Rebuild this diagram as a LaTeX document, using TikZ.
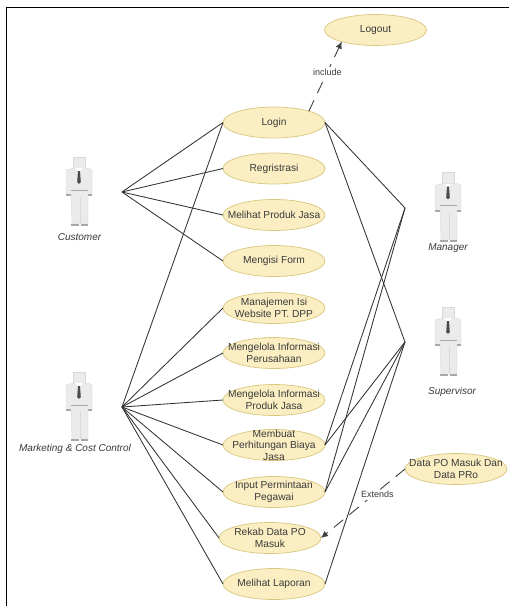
\documentclass[tikz,border=0pt]{standalone}
\usepackage{fontspec}
\setmainfont{Liberation Sans}
\usetikzlibrary{shapes.geometric,arrows.meta}
\definecolor{ucfill}{HTML}{FAEEC2}
\definecolor{ucline}{HTML}{D9C77E}
\definecolor{txt}{HTML}{3A3A3A}
\definecolor{fig}{HTML}{EBEBEB}
\definecolor{figline}{HTML}{D8D8D8}
\definecolor{figdark}{HTML}{A8A8A8}
\tikzset{
  usecase/.style={ellipse,draw=ucline,fill=ucfill,line width=0.7pt,minimum width=102pt,minimum height=31pt,inner xsep=-30pt,inner ysep=-30pt,outer sep=0pt,align=center,font=\fontsize{10.2}{11.5}\selectfont,text=txt},
  actorlabel/.style={font=\fontsize{10}{12}\selectfont\itshape,text=txt,inner sep=0pt},
  linklabel/.style={font=\fontsize{9}{11}\selectfont,text=txt,fill=white,inner sep=1.5pt},
  assoc/.style={draw=black!80,line width=0.85pt},
  dep/.style={draw=black!75,line width=0.9pt,dash pattern=on 12pt off 8pt,-{Latex[length=7pt,width=6.5pt]}},
  actorfig/.pic={
    \fill[fig,draw=figline,line width=0.4pt] (-6,0) -- (6,0) -- (6,11) -- (-6,11) -- cycle;
    \fill[fig,draw=figline,line width=0.4pt] (-9,12) -- (-4,11) -- (9,11) -- (13,13) -- (13,38) -- (9,38) -- (9,67) -- (-7,67) -- (-8,38) -- (-13,38) -- (-13,13) -- cycle;
    \fill[white] (-4,11) -- (4,11) -- (0,15) -- cycle;
    \draw[figline,line width=0.4pt] (1,40) -- (1,67);
    \draw[figdark,line width=0.8pt] (-8,33) -- (9,33);
    \fill[black!70] (-1,14) -- (1,14) -- (1.8,25) -- (0,27) -- (-1.8,25) -- cycle;
    \fill[figdark] (-13,37) rectangle (-8,39);
    \fill[figdark] (9,37) rectangle (13,39);
    \fill[figdark] (-8,67) rectangle (0,69);
    \fill[figdark] (2,67) rectangle (9,69);
  }
}
\begin{document}
\begin{tikzpicture}[x=1pt,y=-1pt]
\useasboundingbox[fill=white] (0,0) rectangle (509,606);
\draw[black,line width=0.9pt] (509,7) -- (6,7) -- (6,606);

\node[usecase] (logout) at (375.5,30) {Logout};
\node[usecase] (login) at (274,122.5) {Login};
\node[usecase] (reg) at (274,168.5) {Regristrasi};
\node[usecase] (produk) at (274,215) {Melihat Produk Jasa};
\node[usecase] (form) at (274,261) {Mengisi Form};
\node[usecase] (isi) at (274,308) {Manajemen Isi\\Website PT. DPP};
\node[usecase] (perus) at (274,353) {Mengelola Informasi\\Perusahaan};
\node[usecase] (infoprod) at (274,400) {Mengelola Informasi\\Produk Jasa};
\node[usecase] (biaya) at (274,445) {Membuat\\Perhitungan Biaya\\Jasa};
\node[usecase] (input) at (274,492) {Input Permintaan\\Pegawai};
\node[usecase] (rekab) at (270,538) {Rekab Data PO\\Masuk};
\node[usecase] (laporan) at (274,584) {Melihat Laporan};
\node[usecase] (data) at (456,469) {Data PO Masuk Dan\\Data PRo};

\coordinate (hubcust) at (122,192);
\coordinate (hubmark) at (122,407);
\coordinate (hubman) at (405,208);
\coordinate (hubsup) at (405,342);

\pic at (79,157) {actorfig};
\pic at (448,172.5) {actorfig};
\pic at (448,307) {actorfig};
\pic at (79,372) {actorfig};
\node[actorlabel] (lcust) at (79.5,237.5) {Customer};
\node[actorlabel] (lman) at (448,248) {Manager};
\node[actorlabel] (lsup) at (452,391.5) {Supervisor};
\node[actorlabel] (lmark) at (75,449) {Marketing \& Cost Control};

\foreach \u in {login,reg,produk,form}
  \draw[assoc] (hubcust) -- (\u.west);
\foreach \u in {login,isi,perus,infoprod,biaya,input,rekab,laporan}
  \draw[assoc] (hubmark) -- (\u.west);
\foreach \u in {login,biaya,input}
  \draw[assoc] (hubman) -- (\u.east);
\foreach \u in {login,biaya,input,laporan}
  \draw[assoc] (hubsup) -- (\u.east);

\draw[dep] (login.18) -- node[linklabel,pos=0.56] (linc) {include} (logout.199);
\draw[dep] (data.west) -- node[linklabel,pos=0.33,yshift=-3pt] (lext) {Extends} (rekab.east);
\end{tikzpicture}
\end{document}
